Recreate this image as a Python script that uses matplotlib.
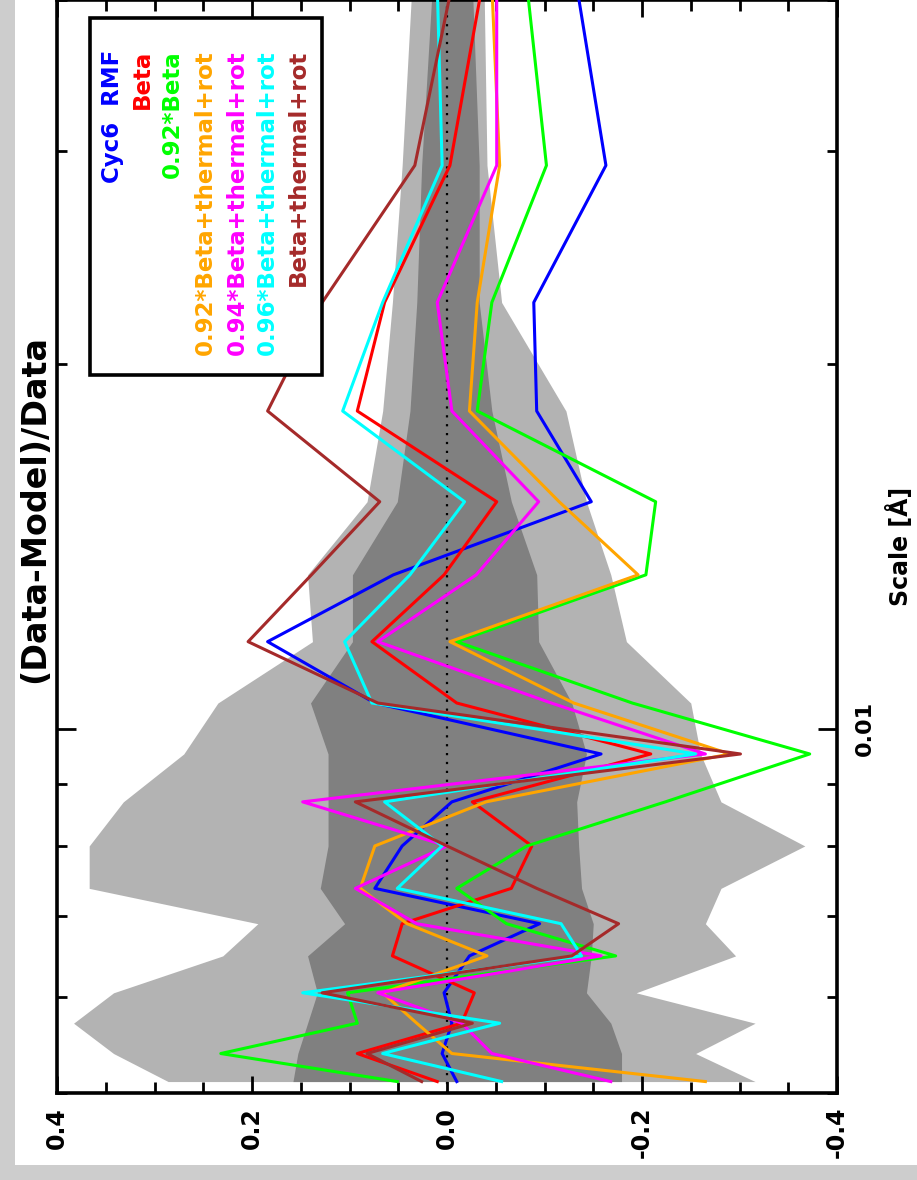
import matplotlib
matplotlib.use("Agg")
import matplotlib.pyplot as plt
from matplotlib.patches import Rectangle
from matplotlib.ticker import FixedLocator, NullFormatter, FixedFormatter, LogLocator

plt.rcParams['font.family'] = ['DejaVu Sans']
plt.rcParams['font.weight'] = 'bold'
plt.rcParams['axes.unicode_minus'] = False

# ---- data ----
scales = [0.0411, 0.0292, 0.0225, 0.0183, 0.0154, 0.0134, 0.0118, 0.0105, 0.00953,
          0.00870, 0.00800, 0.00738, 0.00690, 0.00649, 0.00605, 0.00571, 0.00539, 0.00511]

cyc6_rmf = [-0.133, -0.163, -0.089, -0.092, -0.148, 0.055, 0.184, 0.074, -0.158,
            -0.005, 0.046, 0.074, -0.095, -0.023, 0.003, -0.005, 0.005, -0.010]
beta = [-0.036, -0.003, 0.064, 0.092, -0.051, 0.003, 0.077, -0.010, -0.209,
        -0.026, -0.087, -0.066, 0.046, 0.056, -0.028, -0.015, 0.092, 0.010]
beta092 = [-0.082, -0.102, -0.046, -0.031, -0.214, -0.204, -0.010, -0.190, -0.372,
           -0.224, -0.082, -0.010, -0.061, -0.173, 0.102, 0.092, 0.232, 0.051]
beta092_tr = [-0.046, -0.054, -0.031, -0.023, -0.115, -0.196, -0.003, -0.130, -0.290,
              -0.040, 0.074, 0.089, 0.041, -0.041, 0.066, 0.031, -0.005, -0.265]
beta094_tr = [-0.051, -0.051, 0.010, -0.005, -0.094, -0.030, 0.071, -0.107, -0.265,
              0.148, 0.000, 0.094, 0.031, -0.158, 0.071, -0.015, -0.046, -0.168]
beta096_tr = [0.010, 0.005, 0.066, 0.107, -0.018, 0.038, 0.105, 0.077, -0.255,
              0.064, 0.005, 0.051, -0.117, -0.138, 0.148, -0.054, 0.066, -0.056]
beta_tr = [-0.005, 0.033, 0.128, 0.184, 0.069, 0.139, 0.204, 0.071, -0.301,
           0.094, 0.000, -0.092, -0.176, -0.128, 0.128, -0.026, 0.082, 0.026]

light_hi = [0.036, 0.046, 0.056, 0.066, 0.082, 0.143, 0.138, 0.235, 0.270,
            0.332, 0.367, 0.367, 0.194, 0.230, 0.342, 0.383, 0.342, 0.286]
light_lo = [-0.038, -0.041, -0.056, -0.122, -0.143, -0.168, -0.184, -0.250, -0.260,
            -0.281, -0.367, -0.281, -0.265, -0.296, -0.194, -0.316, -0.255, -0.316]
dark_hi = [0.015, 0.026, 0.031, 0.038, 0.051, 0.097, 0.097, 0.140, 0.122,
           0.122, 0.122, 0.130, 0.105, 0.143, 0.133, 0.143, 0.153, 0.158]
dark_lo = [-0.026, -0.033, -0.033, -0.046, -0.066, -0.092, -0.094, -0.128, -0.143,
           -0.133, -0.135, -0.138, -0.150, -0.148, -0.143, -0.168, -0.179, -0.179]

labels = ["Cyc6  RMF", "Beta", "0.92*Beta", "0.92*Beta+thermal+rot",
          "0.94*Beta+thermal+rot", "0.96*Beta+thermal+rot", "Beta+thermal+rot"]
colors = ["#0000ff", "#ff0000", "#00ff00", "#ffa500", "#ff00ff", "#00ffff", "#a52a2a"]
series = [cyc6_rmf, beta, beta092, beta092_tr, beta094_tr, beta096_tr, beta_tr]

xticks_vals = [0.4, 0.2, 0.0, -0.2, -0.4]
xtick_labels = ["0.4", "0.2", "0.0", "-0.2", "-0.4"]

# ---- figure ----
fig = plt.figure(figsize=(9.17, 11.8), dpi=100)
fig.patch.set_facecolor("white")
fig.add_artist(Rectangle((0, 0), 15 / 917, 1, transform=fig.transFigure,
                         facecolor="#cdcdcd", edgecolor="none", zorder=0))
fig.add_artist(Rectangle((0, 0), 1, 15 / 1180, transform=fig.transFigure,
                         facecolor="#cdcdcd", edgecolor="none", zorder=0))

ax = fig.add_axes([57 / 917, 1 - 1093 / 1180, 780 / 917, 1093 / 1180])
ax.set_yscale("log")
ax.set_ylim(0.005, 0.04)
ax.set_xlim(0.4, -0.4)

ax.fill_betweenx(scales, light_lo, light_hi, color="#b3b3b3", linewidth=0, zorder=1)
ax.fill_betweenx(scales, dark_lo, dark_hi, color="#808080", linewidth=0, zorder=2)
ax.axvline(0.0, color="black", linestyle=(0, (1, 3)), linewidth=1.6, zorder=3)

for vals, c in zip(series, colors):
    ax.plot(vals, scales, color=c, linewidth=2.2, zorder=4)

for s in ax.spines.values():
    s.set_linewidth(2.6)

ax.xaxis.set_major_locator(FixedLocator(xticks_vals))
ax.xaxis.set_major_formatter(FixedFormatter(xtick_labels))
ax.xaxis.set_minor_locator(FixedLocator([0.35, 0.3, 0.25, 0.15, 0.1, 0.05, -0.05, -0.1,
                                         -0.15, -0.25, -0.3, -0.35]))
ax.tick_params(axis="x", which="both", direction="in", top=True, bottom=True,
               labelrotation=90, labelsize=17, pad=10, width=2)
ax.tick_params(axis="x", which="major", length=12)
ax.tick_params(axis="x", which="minor", length=8)

ax.yaxis.set_major_locator(FixedLocator([0.01]))
ax.yaxis.set_major_formatter(FixedFormatter(["0.01"]))
ax.yaxis.set_minor_locator(LogLocator(base=10, subs=range(2, 10)))
ax.yaxis.set_minor_formatter(NullFormatter())
ax.tick_params(axis="y", which="both", direction="in", left=True, right=True,
               labelleft=False, labelright=True, labelrotation=90, labelsize=16,
               pad=13, width=2)
ax.tick_params(axis="y", which="major", length=14)
ax.tick_params(axis="y", which="minor", length=7)
for lab in ax.get_yticklabels():
    lab.set_verticalalignment("center")

# legend box (rotated layout)
fig.add_artist(Rectangle((90 / 917, 1 - 375 / 1180), 232 / 917, 357 / 1180,
                         transform=fig.transFigure, facecolor="white",
                         edgecolor="black", linewidth=2.6, zorder=10))
legend_x = [113, 142, 172, 205, 237, 267, 298]
for lx, lab, c in zip(legend_x, labels, colors):
    fig.text(lx / 917, 1 - 50 / 1180, lab, color=c, rotation=90, ha="center",
             va="top", fontsize=16.5, fontweight="bold", zorder=11)

fig.text(35 / 917, 1 - 509 / 1180, "(Data-Model)/Data", rotation=90, ha="center",
         va="center", fontsize=24, fontweight="bold")
fig.text(900 / 917, 1 - 546 / 1180, "Scale [Å]", rotation=90, ha="center",
         va="center", fontsize=17, fontweight="bold")

fig.savefig("out.png", dpi=100)
